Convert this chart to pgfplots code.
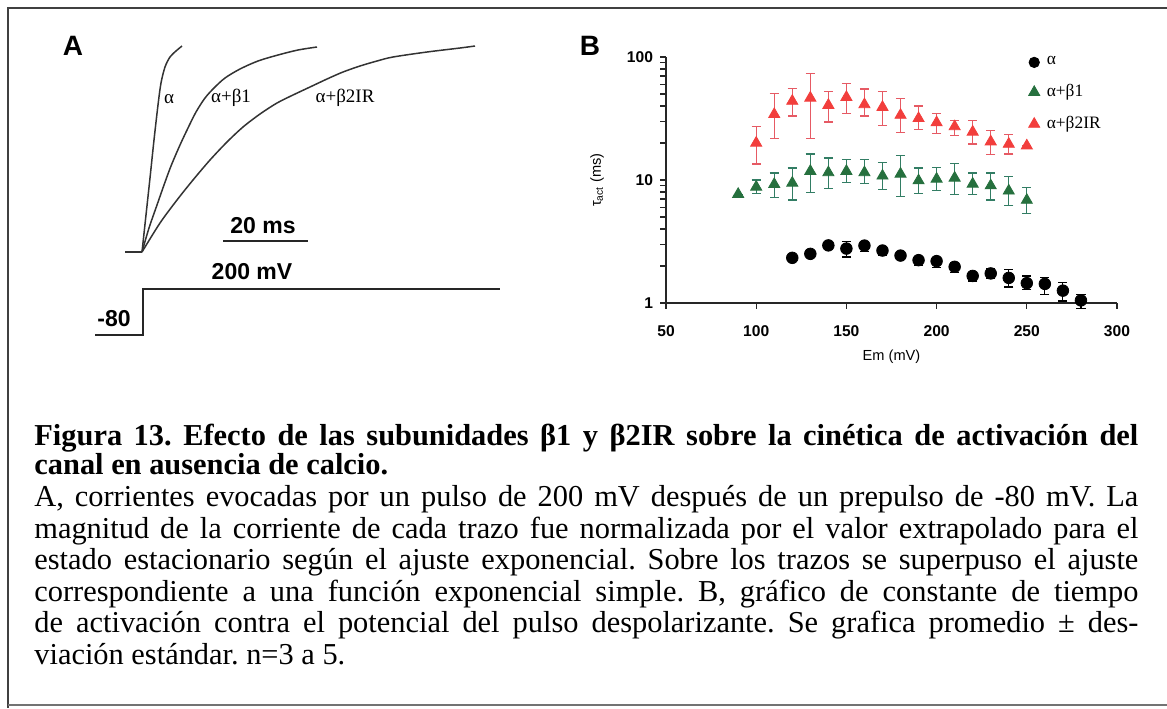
\documentclass[border=0pt]{standalone}
\usepackage{fontspec}
\setmainfont{Liberation Serif}
\newfontfamily\arial{Liberation Sans}
\usepackage{pgfplots}
\pgfplotsset{compat=1.18}
\usepackage{pgfplotstable}
\definecolor{myred}{RGB}{242,62,60}
\definecolor{myredbar}{RGB}{230,90,100}
\definecolor{mygreen}{RGB}{38,112,62}
\definecolor{mygreenbar}{RGB}{50,125,100}
\frenchspacing

\pgfplotstableread{
x y ep em
120 2.33 0 0
130 2.51 0 0
140 2.94 0.15 0.12
150 2.77 0.38 0.40
160 2.93 0.22 0.31
170 2.67 0.20 0.21
180 2.43 0.08 0.08
190 2.23 0.17 0.20
200 2.19 0.15 0.25
210 1.97 0.15 0.21
220 1.66 0.10 0.15
230 1.74 0.16 0.16
240 1.60 0.27 0.25
250 1.45 0.21 0.17
260 1.43 0.18 0.25
270 1.26 0.21 0.22
280 1.05 0.13 0.15
}\alphadata

\pgfplotstableread{
x y ep em
90 7.67 0 0
100 8.78 1.22 1.01
110 9.23 2.17 2.03
120 9.46 3.04 2.59
130 11.8 4.5 3.87
140 11.5 3.6 2.99
150 11.8 2.8 2.3
160 11.5 3.1 2.16
170 10.8 3.0 2.45
180 11.2 4.6 3.9
190 9.88 2.62 2.11
200 10.2 2.5 1.94
210 10.4 3.3 2.73
220 9.29 2.11 1.67
230 9.00 2.4 2.13
240 8.16 2.44 1.91
250 6.86 1.83 1.50
}\betaonedata

\pgfplotstableread{
x y ep em
100 20.0 7.1 6.5
110 34.2 16.0 12.4
120 43.8 11.6 10.7
130 46.5 26.5 24.9
140 40.6 11.6 11.0
150 47.1 14.1 12.6
160 41.1 13.9 8.0
170 39.1 13.6 11.3
180 33.7 12.3 9.4
190 31.7 8.3 5.8
200 29.3 5.4 5.3
210 27.2 3.3 4.1
220 24.6 5.9 5.0
230 20.5 4.6 4.4
240 19.6 3.8 3.3
250 19.0 0 0
}\betatwodata

\newcommand\capfont{\fontsize{15.2}{16}\selectfont}
\newcommand\capline[1]{\makebox[552pt][s]{#1}}

\begin{document}
\begin{tikzpicture}
\useasboundingbox (0,0) rectangle (583.5pt,354pt);
% page layer in pixel coordinates
\begin{axis}[at={(0,0)}, anchor=south west, scale only axis,
  width=583.5pt, height=354pt, xmin=0, xmax=1167, ymin=0, ymax=708,
  y dir=reverse, axis lines=none, clip=false]
% frame
\addplot[black!75, line width=1pt] coordinates {(1167,8) (8,8) (8,708)};
\addplot[black!55, line width=0.8pt] coordinates {(8,705) (1167,705)};
% panel A traces
\addplot[black!80, line width=0.75pt] coordinates {(125,252) (142,252)};
\addplot[black!80, line width=0.75pt, smooth] coordinates {(142,252) (146,215) (150,178) (154,140) (158,105) (161,83) (165,67) (170,57) (176,51) (182,46)};
\addplot[black!80, line width=0.75pt, smooth] coordinates {(142,252) (149,228) (157,205) (164,185) (171,166) (180,145) (188,128) (196,112) (205,98) (214,88) (225,78) (240,69) (258,61) (278,55) (298,50) (317,47)};
\addplot[black!80, line width=0.75pt, smooth] coordinates {(142,252) (160,223) (177,200) (193,180) (210,160) (227,142) (243,127) (260,114) (277,103) (293,95) (310,87) (327,79) (343,72) (360,66) (377,61) (393,57) (427,52) (460,48) (475,46)};
% voltage step
\addplot[black!85, line width=0.8pt] coordinates {(95,335) (143,335) (143,289) (500,289)};
% scale bar
\addplot[black!85, line width=1.1pt] coordinates {(223,241) (308,241)};
% texts panel A
\node[font=\arial\bfseries\fontsize{14}{14}\selectfont] at (73,46) {A};
\node[font=\arial\bfseries\fontsize{14}{14}\selectfont] at (590,46) {B};
\node[font=\fontsize{9.5}{10}\selectfont] at (169,99) {α};
\node[font=\fontsize{9.5}{10}\selectfont] at (231,98) {α+β1};
\node[font=\fontsize{9.5}{10}\selectfont] at (345,98) {α+β2IR};
\node[font=\arial\bfseries\fontsize{11.5}{12}\selectfont] at (263,226) {20 ms};
\node[font=\arial\bfseries\fontsize{11.5}{12}\selectfont] at (252,272) {200 mV};
\node[font=\arial\bfseries\fontsize{11.5}{12}\selectfont] at (114,319) {-80};
% caption
\node[anchor=base west, inner sep=0pt, font=\bfseries\capfont] at (34,445) {\capline{Figura 13. Efecto de las subunidades β1 y β2IR sobre la cinética de activación del}};
\node[anchor=base west, inner sep=0pt, font=\bfseries\capfont] at (34,474) {canal en ausencia de calcio.};
\node[anchor=base west, inner sep=0pt, font=\capfont] at (34,506) {\capline{A, corrientes evocadas por un pulso de 200 mV después de un prepulso de -80 mV. La}};
\node[anchor=base west, inner sep=0pt, font=\capfont] at (34,538) {\capline{magnitud de la corriente de cada trazo fue normalizada por el valor extrapolado para el}};
\node[anchor=base west, inner sep=0pt, font=\capfont] at (34,569) {\capline{estado estacionario según el ajuste exponencial. Sobre los trazos se superpuso el ajuste}};
\node[anchor=base west, inner sep=0pt, font=\capfont] at (34,601) {\capline{correspondiente a una función exponencial simple. B, gráfico de constante de tiempo}};
\node[anchor=base west, inner sep=0pt, font=\capfont] at (34,632) {\capline{de activación contra el potencial del pulso despolarizante. Se grafica promedio ± des-}};
\node[anchor=base west, inner sep=0pt, font=\capfont] at (34,664) {viación estándar. n=3 a 5.};
\end{axis}

% panel B
\begin{axis}[at={(333pt,202.5pt)}, anchor=south west, scale only axis,
  width=225.5pt, height=123pt,
  xmin=50, xmax=300, ymin=1, ymax=100, ymode=log,
  axis x line=bottom, axis y line=left, axis line style={-, line width=0.7pt, black!85},
  xtick={50,100,150,200,250,300},
  ytick={1,10,100}, yticklabels={1,10,100}, minor y tick num=0,
  tick align=outside, major tick length=3pt, tick style={black!85, line width=0.6pt},
  /pgf/number format/assume math mode=true,
  ticklabel style={font=\arial\bfseries\fontsize{7.8}{9}\selectfont},
  xticklabel style={yshift=-5pt},
  xlabel={Em (mV)}, ylabel={τ\textsubscript{act} (ms)},
  label style={font=\arial\fontsize{7.3}{8}\selectfont},
  xlabel style={at={(axis description cs:0.5,-0.22)}, anchor=center},
  ylabel style={at={(axis description cs:-0.153,0.5)}, anchor=center},
  legend style={draw=none, fill=none, at={(rel axis cs:0.79,1.035)}, anchor=north west,
    font=\fontsize{8.7}{10}\selectfont, row sep=4.3pt,
    /tikz/every odd column/.append style={column sep=1.5pt}},
  legend cell align=left,
  clip=false]
\addplot[forget plot, only marks, mark=*, mark size=2.9pt, black,
  error bars/.cd, y dir=both, y explicit, error bar style={black, line width=0.6pt},
  error mark options={rotate=90, mark size=2.3pt, black, line width=0.6pt}]
  table[x=x, y=y, y error plus=ep, y error minus=em] {\alphadata};
\addplot[forget plot, only marks, mark=triangle*, mark size=3.2pt, mygreen,
  error bars/.cd, y dir=both, y explicit, error bar style={mygreenbar, line width=0.6pt},
  error mark options={rotate=90, mark size=2.3pt, mygreenbar, line width=0.6pt}]
  table[x=x, y=y, y error plus=ep, y error minus=em] {\betaonedata};
\addplot[forget plot, only marks, mark=triangle*, mark size=3.2pt, myred,
  error bars/.cd, y dir=both, y explicit, error bar style={myredbar, line width=0.6pt},
  error mark options={rotate=90, mark size=2.3pt, myredbar, line width=0.6pt}]
  table[x=x, y=y, y error plus=ep, y error minus=em] {\betatwodata};
\addlegendimage{only marks, mark=*, mark size=2.6pt, black}
\addlegendentry{α}
\addlegendimage{only marks, mark=triangle*, mark size=3.2pt, mygreen}
\addlegendentry{α+β1}
\addlegendimage{only marks, mark=triangle*, mark size=3.2pt, myred}
\addlegendentry{α+β2IR}
\end{axis}
\end{tikzpicture}
\end{document}
